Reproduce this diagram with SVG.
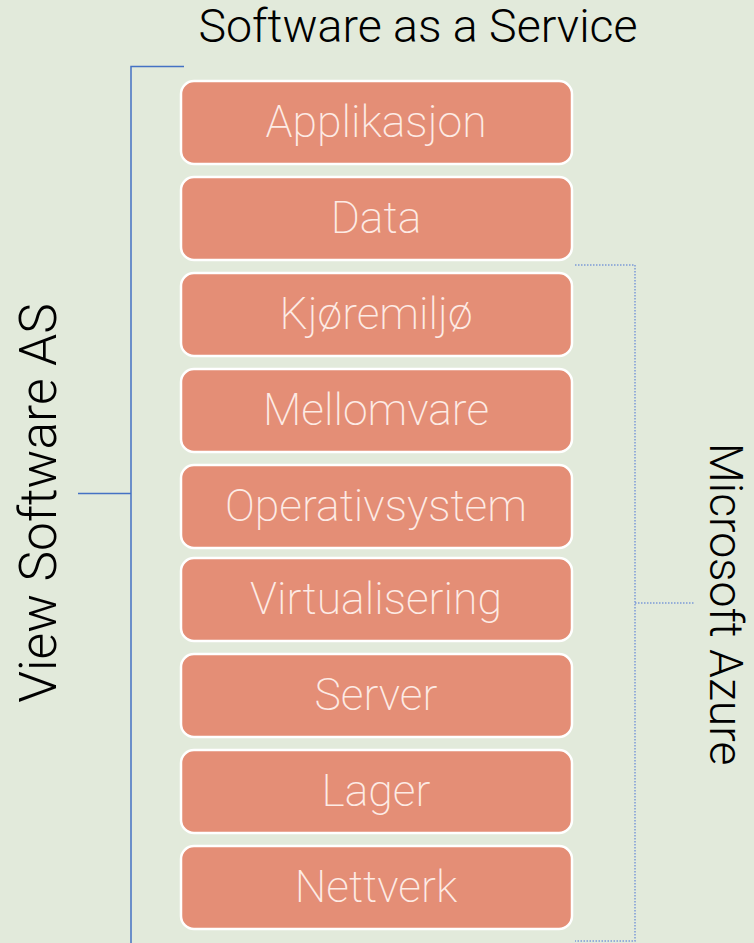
<svg xmlns="http://www.w3.org/2000/svg" width="754" height="943" viewBox="0 0 754 943">
<style>
.bg{fill:#E2EADB}
.box rect{fill:#E48E76;stroke:#FFFFFF;stroke-width:2.5}
.box text{fill:#FDEBE5;font-family:Roboto,"Liberation Sans",sans-serif;font-weight:200;font-size:44.5px;text-anchor:middle}
.lbl{fill:#000000;font-family:Roboto,"Liberation Sans",sans-serif;font-weight:300;text-anchor:middle}
.solid{stroke:#4472C4;stroke-width:1.5;fill:none}
.dot{stroke:#7C9BD8;stroke-width:1.5;fill:none;stroke-dasharray:1.5 1.5}
</style>
<rect class="bg" x="0" y="0" width="754" height="943"/>
<g id="connectors">
  <path class="solid" d="M184 66.5 H131 V943 M131 493.5 H78"/>
  <path class="dot" d="M575 265 H635 V941 H575 M635 603 H694"/>
</g>
<g id="title"><text class="lbl" x="418" y="42" font-size="46.5">Software as a Service</text></g>
<g id="left-label"><text class="lbl" transform="translate(56,503) rotate(-90)" font-size="51.5">View Software AS</text></g>
<g id="right-label"><text class="lbl" transform="translate(710,604) rotate(90)" font-size="46.3">Microsoft Azure</text></g>
<g id="n-applikasjon" class="box"><rect x="181" y="81" width="391" height="83" rx="13"/><text x="376" y="137">Applikasjon</text></g>
<g id="n-data" class="box"><rect x="181" y="177" width="391" height="83" rx="13"/><text x="376" y="233">Data</text></g>
<g id="n-kjoremiljo" class="box"><rect x="181" y="273" width="391" height="83" rx="13"/><text x="376" y="329">Kjøremiljø</text></g>
<g id="n-mellomvare" class="box"><rect x="181" y="369" width="391" height="83" rx="13"/><text x="376" y="425">Mellomvare</text></g>
<g id="n-operativsystem" class="box"><rect x="181" y="465" width="391" height="83" rx="13"/><text x="376" y="521">Operativsystem</text></g>
<g id="n-virtualisering" class="box"><rect x="181" y="558" width="391" height="83" rx="13"/><text x="376" y="614">Virtualisering</text></g>
<g id="n-server" class="box"><rect x="181" y="654" width="391" height="83" rx="13"/><text x="376" y="710">Server</text></g>
<g id="n-lager" class="box"><rect x="181" y="750" width="391" height="83" rx="13"/><text x="376" y="806">Lager</text></g>
<g id="n-nettverk" class="box"><rect x="181" y="846" width="391" height="83" rx="13"/><text x="376" y="902">Nettverk</text></g>
</svg>
